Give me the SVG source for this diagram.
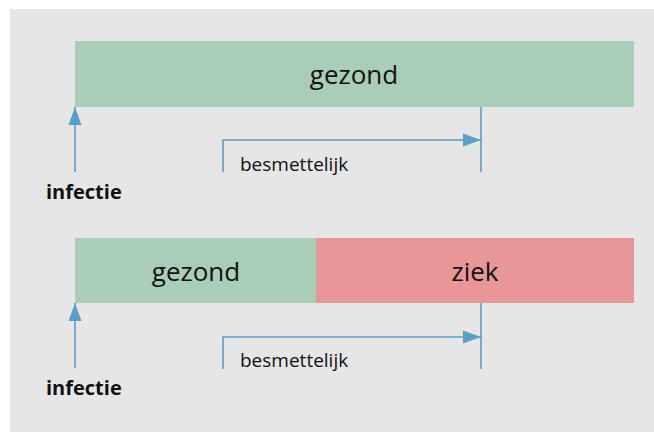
<svg xmlns="http://www.w3.org/2000/svg" width="654" height="432" viewBox="0 0 654 432">
<style>
.lbl{font-family:"Open Sans","Liberation Sans",sans-serif;fill:#111}
.big{font-size:26px}
.small{font-size:19px}
.bold{font-family:"Open Sans","Liberation Sans",sans-serif;font-weight:bold;font-size:20px;fill:#111}
.ln{stroke:#5a9fc9;stroke-width:1.6;fill:none}
</style>
<defs>
<marker id="ahr" markerWidth="18" markerHeight="14" refX="18" refY="7" orient="auto" markerUnits="userSpaceOnUse" viewBox="0 0 18 14">
<path d="M0,0.5 L18,7 L0,13.5 Z" fill="#5a9fc9"/>
</marker>
</defs>
<rect x="10" y="9" width="644" height="423" fill="#e6e6e6"/>
<g id="bar1-gezond"><rect x="75" y="41" width="559" height="66" fill="#a9cdb7"/><text class="lbl big" x="354" y="84" text-anchor="middle">gezond</text></g>
<g id="bar2-gezond"><rect x="75" y="238" width="241" height="65" fill="#a9cdb7"/><text class="lbl big" x="196" y="281" text-anchor="middle">gezond</text></g>
<g id="bar2-ziek"><rect x="316" y="238" width="318" height="65" fill="#e89799"/><text class="lbl big" x="475" y="281" text-anchor="middle">ziek</text></g>
<g id="infectie1"><text class="bold" x="46" y="199">infectie</text></g>
<g id="infectie2"><text class="bold" x="46" y="395">infectie</text></g>
<g id="besmettelijk1"><text class="lbl small" x="240" y="171">besmettelijk</text></g>
<g id="besmettelijk2"><text class="lbl small" x="240" y="367">besmettelijk</text></g>
<g id="connectors">
<line class="ln" x1="75" y1="172" x2="75" y2="107" marker-end="url(#ahr)"/>
<line class="ln" x1="481" y1="107" x2="481" y2="172"/>
<polyline class="ln" points="223,172 223,140 481,140" marker-end="url(#ahr)"/>
<line class="ln" x1="75" y1="368" x2="75" y2="303" marker-end="url(#ahr)"/>
<line class="ln" x1="481" y1="303" x2="481" y2="369"/>
<polyline class="ln" points="223,369 223,337 481,337" marker-end="url(#ahr)"/>
</g>
</svg>
